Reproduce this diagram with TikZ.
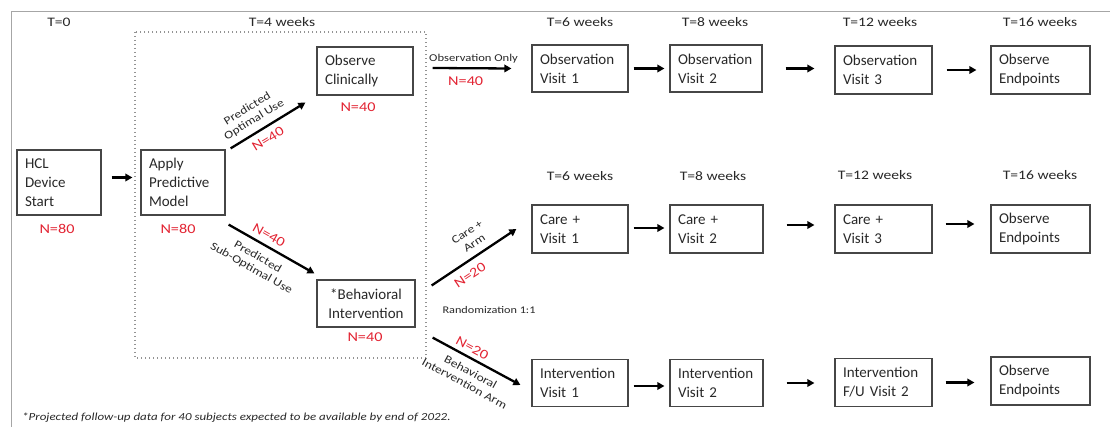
\documentclass[tikz,border=0pt]{standalone}
\usepackage{fontspec}
\setmainfont{Carlito}
\newfontfamily\lblf{Carlito}[FakeStretch=1.2]
\usetikzlibrary{arrows.meta}
\definecolor{nred}{RGB}{226,35,50}
\definecolor{boxc}{RGB}{70,70,70}
\definecolor{txt}{RGB}{40,40,40}
\begin{document}
\begin{tikzpicture}[x=1pt,y=-1pt,
  box/.style={draw=boxc, line width=1.2pt, align=left, inner xsep=8pt, inner ysep=0pt,
    font=\fontsize{15}{19}\selectfont, text=txt},
  arr/.style={-{Triangle[length=7pt,width=7.5pt]}, line width=2.3pt},
  tlab/.style={font=\lblf\fontsize{13}{15}\selectfont, text=txt},
  nlab/.style={font=\lblf\fontsize{13.5}{15}\selectfont, text=nred},
  slab/.style={font=\lblf\fontsize{11.3}{13}\selectfont, text=txt, align=center, inner sep=0pt},
  snlab/.style={font=\lblf\fontsize{13.5}{15}\selectfont, text=nred, inner sep=0pt},
]
\useasboundingbox (0,0) rectangle (1110,427);
% frame
\draw[gray!70, line width=1.5pt] (11.5,427) -- (11.5,11.5) -- (1110,11.5);
% dotted group
\draw[gray!85, line width=1.3pt, dash pattern=on 1.3pt off 2.7pt] (135,32) rectangle (426,358);

% time labels
\node[tlab] (t0) at (59,22) {T=0};
\node[tlab] (t4) at (282,22) {T=4 weeks};
\node[tlab] (t6a) at (580,22) {T=6 weeks};
\node[tlab] (t8a) at (715,22) {T=8 weeks};
\node[tlab] (t12a) at (880,22) {T=12 weeks};
\node[tlab] (t16a) at (1040,22) {T=16 weeks};
\node[tlab] (t6b) at (580,176) {T=6 weeks};
\node[tlab] (t8b) at (713,176) {T=8 weeks};
\node[tlab] (t12b) at (875,175) {T=12 weeks};
\node[tlab] (t16b) at (1040,175) {T=16 weeks};

% boxes
\node[box, text width=68pt, minimum height=65pt] (hcl) at (59,182.5) {HCL\\Device\\Start};
\node[box, text width=68pt, minimum height=65pt] (apm) at (183,182.5) {Apply\\Predictive\\Model};
\node[box, text width=80pt, minimum height=48pt] (obs) at (365,71) {Observe\\Clinically};
\node[box, text width=82pt, minimum height=47pt, align=center] (beh) at (366,303.5) {*Behavioral\\Intervention};

\node[box, text width=80pt, minimum height=47pt] (ov1) at (580,68.5) {Observation\\Visit 1};
\node[box, text width=76pt, minimum height=47pt] (ov2) at (716,68.5) {Observation\\Visit 2};
\node[box, text width=81pt, minimum height=48pt] (ov3) at (883.5,70) {Observation\\Visit 3};
\node[box, text width=83pt, minimum height=48pt] (oe1) at (1040.5,70) {Observe\\Endpoints};

\node[box, text width=80pt, minimum height=48pt] (cv1) at (580,229) {Care +\\Visit 1};
\node[box, text width=77pt, minimum height=48pt] (cv2) at (716.5,229) {Care +\\Visit 2};
\node[box, text width=81pt, minimum height=48pt] (cv3) at (883.5,229) {Care +\\Visit 3};
\node[box, text width=83pt, minimum height=48pt] (oe2) at (1040.5,229) {Observe\\Endpoints};

\node[box, text width=80pt, minimum height=47pt] (iv1) at (580,383) {Intervention\\Visit 1};
\node[box, text width=77pt, minimum height=47pt] (iv2) at (716.5,383) {Intervention\\Visit 2};
\node[box, text width=81pt, minimum height=48pt] (iv3) at (883.5,382.5) {Intervention\\F/U Visit 2};
\node[box, text width=83pt, minimum height=48pt] (oe3) at (1040.5,381) {Observe\\Endpoints};

% N labels under boxes
\node[nlab] (nhcl) at (57,229) {N=80};
\node[nlab] (napm) at (178,229) {N=80};
\node[nlab] (nobs) at (358,107) {N=40};
\node[nlab] (nbeh) at (365,337) {N=40};

% connectors
\draw[arr] ([xshift=10pt,yshift=5pt]hcl.east) -- ([xshift=-8pt,yshift=5pt]apm.west);

\draw[arr] ([xshift=5pt,yshift=1pt]apm.north east) -- ([xshift=-11pt,yshift=-7pt]obs.south west)
  node[slab, sloped, above=6pt, pos=0.4] {Predicted\\Optimal Use}
  node[snlab, sloped, below=6pt, pos=0.42] {N=40};
\draw[arr] ([xshift=3pt,yshift=-9pt]apm.south east) -- ([xshift=-2pt,yshift=6pt]beh.north west)
  node[snlab, sloped, above=5pt, pos=0.41] {N=40}
  node[slab, sloped, below=8pt, pos=0.42] {Predicted\\Sub-Optimal Use};

\draw[arr] ([xshift=19pt,yshift=3pt]obs.east) -- ([xshift=-20pt]ov1.west)
  node[slab, above=4pt, pos=0.52, font=\lblf\fontsize{10.5}{12}\selectfont] {Observation Only}
  node[snlab, below=7pt, pos=0.42] {N=40};

\draw[arr] ([xshift=16pt,yshift=18pt]beh.east) -- ([xshift=-15pt]cv1.west)
  node[slab, sloped, above=7pt, pos=0.58] {Care +\\Arm}
  node[snlab, sloped, below=7pt, pos=0.37] {N=20};
\draw[arr] ([xshift=17pt,yshift=-10pt]beh.south east) -- ([xshift=-11pt,yshift=-2pt]iv1.west)
  node[snlab, sloped, above=4pt, pos=0.4] {N=20}
  node[slab, sloped, below=7pt, pos=0.5] {Behavioral\\Intervention Arm};

\node[slab, font=\lblf\fontsize{10.2}{12}\selectfont] (rand) at (489,310) {Randomization 1:1};

% row arrows
\draw[arr, shorten <=5pt, shorten >=5pt] (ov1) -- (ov2);
\draw[arr, shorten <=23pt, shorten >=20pt] (ov2.east) -- (ov2.east -| ov3.west);
\draw[arr, shorten <=14pt, shorten >=14pt] (ov3.east) -- (ov3.east -| oe1.west);

\draw[arr, shorten <=5pt, shorten >=5pt] ([yshift=1pt]cv1.east) -- ([yshift=1pt]cv2.west);
\draw[arr, shorten <=23pt, shorten >=20pt] ([yshift=4pt]cv2.east) -- ([yshift=4pt]cv3.west);
\draw[arr, shorten <=13pt, shorten >=16pt] ([yshift=5pt]cv3.east) -- ([yshift=5pt]oe2.west);

\draw[arr, shorten <=5pt, shorten >=5pt] ([yshift=-3pt]iv1.east) -- ([yshift=-3pt]iv2.west);
\draw[arr, shorten <=23pt, shorten >=20pt] (iv2.east) -- (iv2.east -| iv3.west);
\draw[arr, shorten <=13pt, shorten >=16pt] (iv3.east) -- (iv3.east -| oe3.west);

% footnote
\node[anchor=west, font=\lblf\itshape\fontsize{10.8}{12}\selectfont, text=txt, inner sep=0pt] (fn) at (22,418)
  {*Projected follow-up data for 40 subjects expected to be available by end of 2022.};
\end{tikzpicture}
\end{document}
